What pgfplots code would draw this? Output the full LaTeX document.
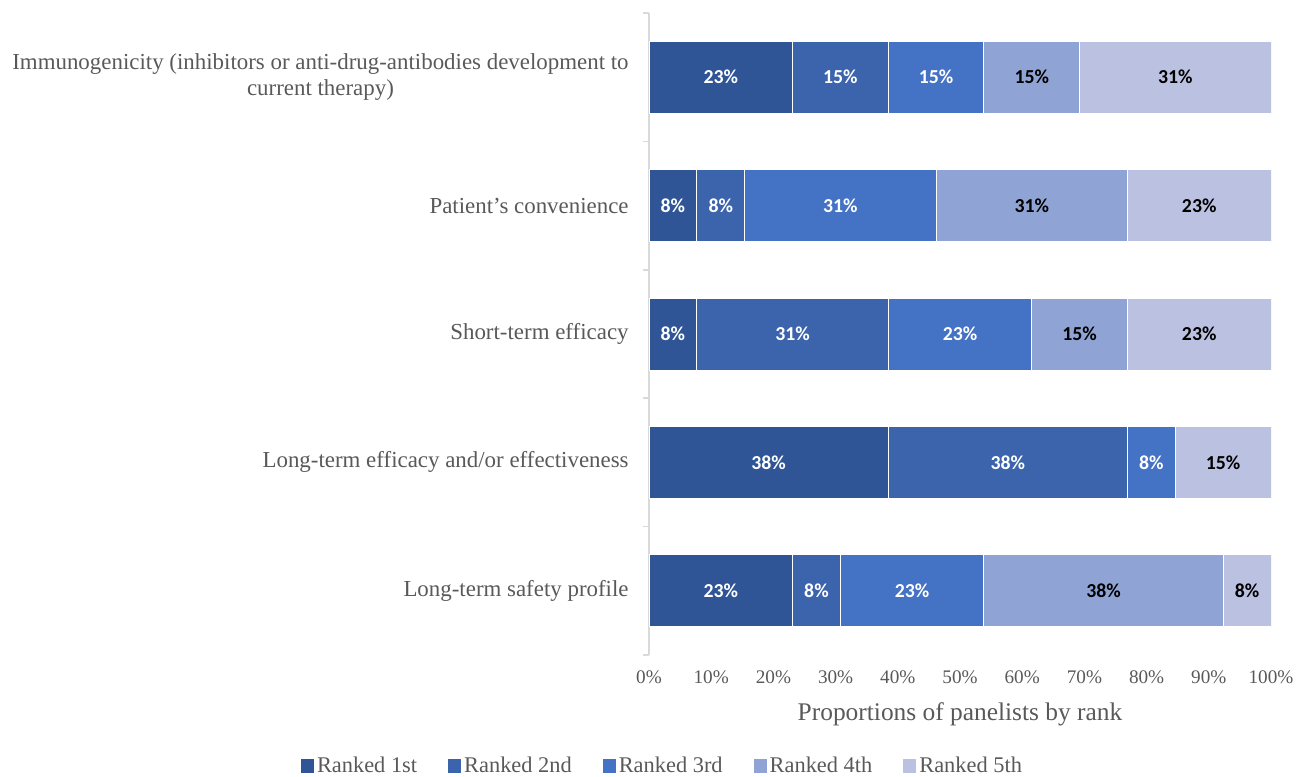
\documentclass[border=0pt]{standalone}
\usepackage{pgfplots}
\usepackage{pgfplotstable}
\pgfplotsset{compat=1.18}
\usepackage{fontspec}
\setmainfont{Liberation Serif}
\newfontfamily\barfont{Carlito}
\definecolor{c1}{HTML}{2F5597}
\definecolor{c2}{HTML}{3B64AD}
\definecolor{c3}{HTML}{4472C4}
\definecolor{c4}{HTML}{8FA4D5}
\definecolor{c5}{HTML}{BBC2E1}
\definecolor{txt}{HTML}{595959}
\definecolor{axl}{HTML}{D9D9D9}

% shares (percent) of panelists, n = 13
\pgfplotstableread{
y r1 r2 r3 r4 r5
0 23.077 7.692 23.077 38.462 7.692
1 38.462 38.462 7.692 0 15.385
2 7.692 30.769 23.077 15.385 23.077
3 7.692 7.692 30.769 30.769 23.077
4 23.077 15.385 15.385 15.385 30.769
}\datatable

% label positions (segment midpoints) and printed values
\pgfplotstableread{
x y l
11.538 4 23
30.769 4 15
46.154 4 15
3.846 3 8
11.538 3 8
30.769 3 31
3.846 2 8
23.077 2 31
50.000 2 23
19.231 1 38
57.692 1 38
80.769 1 8
11.538 0 23
26.923 0 8
42.308 0 23
}\wlab
\pgfplotstableread{
x y l
61.538 4 15
84.615 4 31
61.538 3 31
88.462 3 23
69.231 2 15
88.462 2 23
92.308 1 15
73.077 0 38
96.154 0 8
}\blab

\begin{document}
\begin{tikzpicture}
\path[use as bounding box] (0,0) rectangle (651bp,388.5bp);
\pgfplotsset{base/.style={
  at={(324.5bp,61bp)}, anchor=south west, scale only axis,
  width=311bp, height=321bp, xmin=0, xmax=100, ymin=-0.5, ymax=4.5}}
\begin{axis}[base,
  xbar stacked, bar width=36bp,
  axis y line*=left, axis x line*=bottom,
  x axis line style={draw=none},
  y axis line style={draw=axl, line width=0.75bp},
  major tick length=0pt,
  ytick={0,1,2,3,4},
  yticklabels={Long-term safety profile, Long-term efficacy and/or effectiveness, Short-term efficacy, Patient’s convenience, {Immunogenicity (inhibitors or anti-drug-antibodies development to\\current therapy)}},
  yticklabel style={align=center, font=\fontsize{11.45bp}{13bp}\selectfont, text=txt, inner sep=0pt, xshift=-10bp},
  extra y ticks={-0.5,0.5,1.5,2.5,3.5,4.5},
  extra y tick labels={},
  extra y tick style={major tick length=3bp, tick align=outside, tick style={draw=axl, line width=0.75bp}},
  xtick={0,10,...,100},
  xticklabel={\pgfmathprintnumber{\tick}\%},
  xticklabel style={font=\fontsize{9.6bp}{11bp}\selectfont, text=txt, inner sep=0pt, yshift=-7.5bp},
  /pgf/number format/assume math mode=true,
  xlabel={Proportions of panelists by rank},
  xlabel style={at={(axis description cs:0.5,0)}, anchor=base, yshift=-32.5bp, font=\fontsize{12.7bp}{14bp}\selectfont, text=txt},
  legend columns=5,
  legend style={at={(0.0225,-0.1729)}, anchor=center, draw=none, fill=none,
    font=\fontsize{11.2bp}{13bp}\selectfont, text=txt,
    /tikz/every even column/.append style={column sep=14bp},
    nodes={inner sep=1.5bp}},
  legend image code/.code={\fill[#1,draw=none] (0bp,-3.25bp) rectangle (6.5bp,3.25bp);},
]
\addplot[fill=c1, draw=white, line width=0.5bp] table[x=r1,y=y]{\datatable};
\addplot[fill=c2, draw=white, line width=0.5bp] table[x=r2,y=y]{\datatable};
\addplot[fill=c3, draw=white, line width=0.5bp] table[x=r3,y=y]{\datatable};
\addplot[fill=c4, draw=white, line width=0.5bp] table[x=r4,y=y]{\datatable};
\addplot[fill=c5, draw=white, line width=0.5bp] table[x=r5,y=y]{\datatable};
\legend{Ranked 1st, Ranked 2nd, Ranked 3rd, Ranked 4th, Ranked 5th}
\end{axis}
\begin{axis}[base, hide axis]
\addplot[only marks, mark=*, mark size=0pt, mark options={draw=none,fill=none},
  nodes near coords={\pgfplotspointmeta\%}, point meta=explicit symbolic,
  every node near coord/.append style={font=\barfont\bfseries\fontsize{9.9bp}{11bp}\selectfont, text=white, anchor=center, inner sep=0pt}]
  table[x=x,y=y,meta=l]{\wlab};
\addplot[only marks, mark=*, mark size=0pt, mark options={draw=none,fill=none},
  nodes near coords={\pgfplotspointmeta\%}, point meta=explicit symbolic,
  every node near coord/.append style={font=\barfont\bfseries\fontsize{9.9bp}{11bp}\selectfont, text=black, anchor=center, inner sep=0pt}]
  table[x=x,y=y,meta=l]{\blab};
\end{axis}
\end{tikzpicture}
\end{document}
